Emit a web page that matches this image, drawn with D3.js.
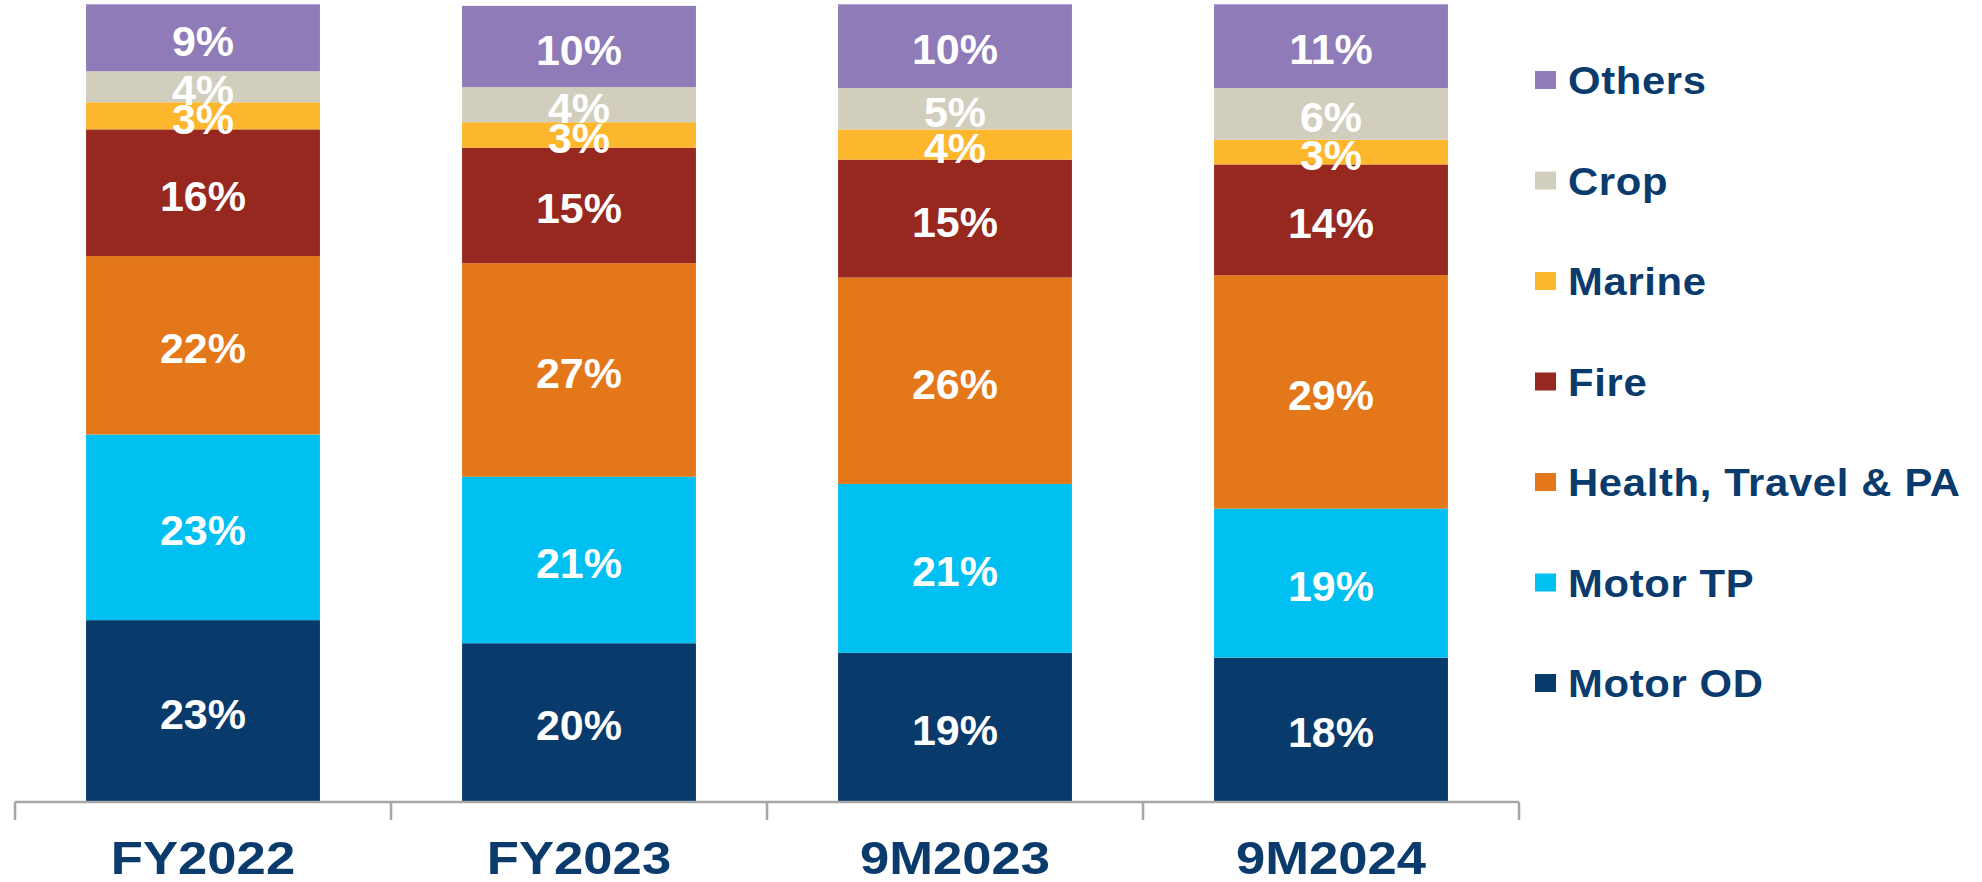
<!DOCTYPE html>
<html>
<head>
<meta charset="utf-8">
<script src="https://cdn.jsdelivr.net/npm/d3@7"></script>
<style>
  html, body { margin: 0; padding: 0; background: #ffffff; }
  svg { display: block; }
</style>
</head>
<body>
<script>
// ---- data ----
const categories = ["FY2022", "FY2023", "9M2023", "9M2024"];
const seriesNames = ["Motor OD", "Motor TP", "Health, Travel & PA", "Fire", "Marine", "Crop", "Others"];
const seriesColors = ["#083a6b", "#00bff1", "#e47719", "#96281f", "#fdb72c", "#d1cebd", "#8f7bb8"];

const motorOD   = [22.7, 19.8, 18.6, 18.0];
const motorTP   = [23.3, 20.9, 21.2, 18.7];
const health    = [22.4, 26.8, 25.9, 29.3];
const fire      = [15.9, 14.5, 14.8, 13.9];
const marine    = [3.4, 3.2, 3.8, 3.1];
const crop      = [3.9, 4.4, 5.2, 6.5];
const others    = [8.4, 10.2, 10.5, 10.5];

const motorODLabels = ["23%", "20%", "19%", "18%"];
const motorTPLabels = ["23%", "21%", "21%", "19%"];
const healthLabels  = ["22%", "27%", "26%", "29%"];
const fireLabels    = ["16%", "15%", "15%", "14%"];
const marineLabels  = ["3%", "3%", "4%", "3%"];
const cropLabels    = ["4%", "4%", "5%", "6%"];
const othersLabels  = ["9%", "10%", "10%", "11%"];

const legendOrder = ["Others", "Crop", "Marine", "Fire", "Health, Travel & PA", "Motor TP", "Motor OD"];

// ---- build table ----
const valueSets = [motorOD, motorTP, health, fire, marine, crop, others];
const labelSets = [motorODLabels, motorTPLabels, healthLabels, fireLabels, marineLabels, cropLabels, othersLabels];
const table = categories.map((c, i) => {
  const row = { category: c };
  seriesNames.forEach((s, j) => { row[s] = valueSets[j][i]; });
  return row;
});

const W = 1982, H = 882;
const svg = d3.select("body").append("svg").attr("width", W).attr("height", H);

const x = d3.scaleBand().domain(categories).range([15, 1519]).paddingInner(0.378).paddingOuter(0.189);
const y = d3.scaleLinear().domain([0, 100]).range([801, 4.3]);
const color = d3.scaleOrdinal().domain(seriesNames).range(seriesColors);

const stack = d3.stack().keys(seriesNames);
const stacked = stack(table);

const layers = svg.append("g").selectAll("g")
  .data(stacked).join("g")
  .attr("fill", d => color(d.key));

layers.selectAll("rect")
  .data(d => d)
  .join("rect")
  .attr("x", d => x(d.data.category))
  .attr("width", x.bandwidth())
  .attr("y", d => y(d[1]))
  .attr("height", d => y(d[0]) - y(d[1]));

// value labels
const labelG = svg.append("g");
stacked.forEach((layer, j) => {
  layer.forEach((d, i) => {
    const cy = (y(d[0]) + y(d[1])) / 2;
    labelG.append("text")
      .attr("x", x(d.data.category) + x.bandwidth() / 2)
      .attr("y", cy + 18)
      .attr("text-anchor", "middle")
      .attr("font-family", "Liberation Sans, Arial, sans-serif")
      .attr("font-weight", "bold")
      .attr("font-size", 43)
      .attr("fill", "#ffffff")
      .text(labelSets[j][i]);
  });
});

// x axis with ticks at band boundaries
const axisG = svg.append("g");
axisG.append("line")
  .attr("x1", x.range()[0]).attr("x2", x.range()[1])
  .attr("y1", 802).attr("y2", 802)
  .attr("stroke", "#a6a6a6").attr("stroke-width", 2.5);
const bounds = categories.map(c => x(c) - x.step() * x.paddingInner() / 2);
bounds.push(x.range()[1]);
bounds[0] = x.range()[0];
axisG.selectAll("line.tick").data(bounds).join("line")
  .attr("class", "tick")
  .attr("x1", d => d).attr("x2", d => d)
  .attr("y1", 802).attr("y2", 820)
  .attr("stroke", "#a6a6a6").attr("stroke-width", 2.5);

axisG.selectAll("text.cat").data(categories).join("text")
  .attr("class", "cat")
  .attr("transform", d => `translate(${x(d) + x.bandwidth() / 2},874) scale(1.12,1)`)
  .attr("text-anchor", "middle")
  .attr("font-family", "Liberation Sans, Arial, sans-serif")
  .attr("font-weight", "bold")
  .attr("font-size", 47)
  .attr("fill", "#0a3b6c")
  .text(d => d);

// legend
const legend = svg.append("g");
const ly = d3.scalePoint().domain(legendOrder).range([80, 683]);
const items = legend.selectAll("g").data(legendOrder).join("g")
  .attr("transform", d => `translate(1535, ${ly(d)})`);
items.append("rect")
  .attr("x", 0).attr("y", -9).attr("width", 21).attr("height", 18)
  .attr("fill", d => color(d));
items.append("text")
  .attr("transform", "translate(33,14) scale(1.1,1)")
  .attr("font-family", "Liberation Sans, Arial, sans-serif")
  .attr("font-weight", "bold")
  .attr("font-size", 38)
  .attr("letter-spacing", 0.6)
  .attr("fill", "#0a3b6c")
  .text(d => d);
</script>
</body>
</html>
